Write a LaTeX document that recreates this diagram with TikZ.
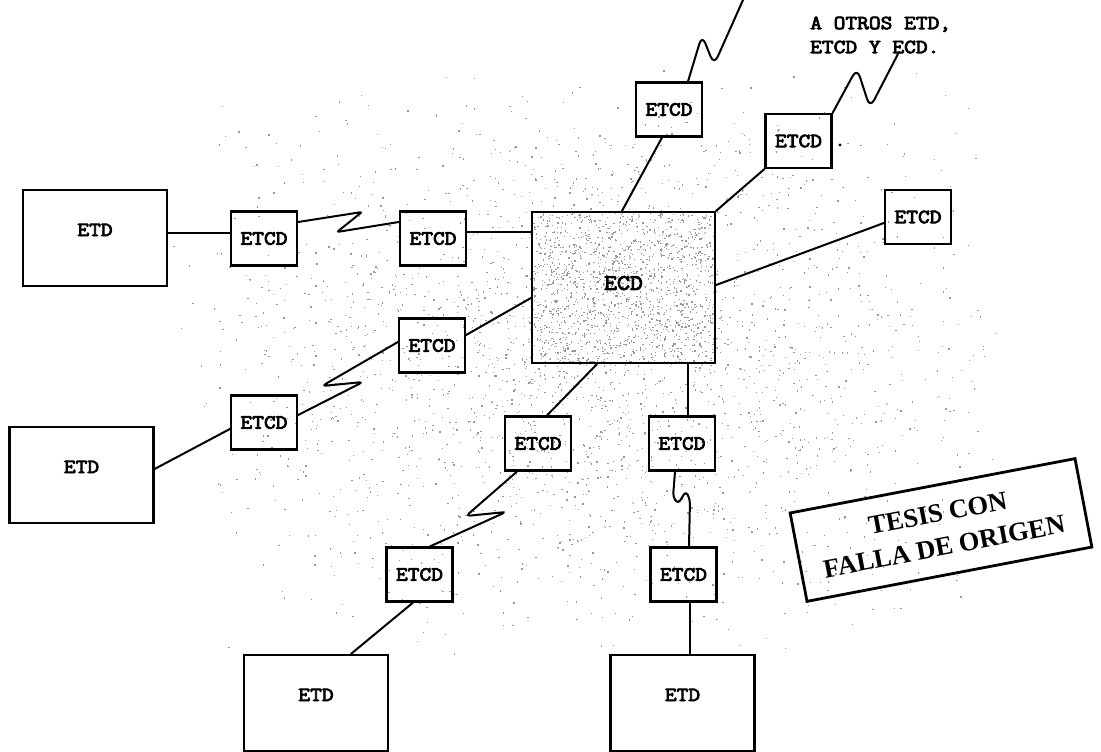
\documentclass[tikz,border=0pt]{standalone}
\usepackage{fontspec}
\newfontfamily\cour{Latin Modern Mono}[FakeBold=4, FakeStretch=1.14]
\newfontfamily\stampfont{Liberation Serif}
\usetikzlibrary{calc}
\begin{document}
\begin{tikzpicture}[x=1pt,y=-1pt,
  wire/.style={line width=2pt, line join=round, line cap=round},
  boxtext/.style={font=\cour\fontsize{20}{24}\selectfont},
  etcdbox/.style={draw, line width=2.2pt, minimum width=66pt, minimum height=54pt, inner sep=0pt, boxtext},
  etdbox/.style={draw, line width=2.2pt, minimum width=144pt, minimum height=96pt, inner sep=0pt, text height=46pt, text depth=50pt, boxtext},
  ecdbox/.style={draw, line width=2.2pt, minimum width=183pt, minimum height=151pt, inner sep=0pt, text depth=9pt, font=\cour\fontsize{22}{26}\selectfont},
  speck/.style={fill=black!40},
]
\useasboundingbox (0,0) rectangle (1101,752);

% scan speckle
\pgfmathsetseed{7}
\foreach \i in {1,...,2600}{
  \pgfmathsetmacro\px{590+420*(rand+rand)/2}
  \pgfmathsetmacro\py{360+300*(rand+rand)/2}
  \fill[speck] (\px,\py) rectangle ++(1.3,1.3);
}
\foreach \i in {1,...,1200}{
  \pgfmathsetmacro\px{533+181*rnd}
  \pgfmathsetmacro\py{213+149*rnd}
  \fill[speck] (\px,\py) rectangle ++(1.3,1.3);
}

% boxes
\node[etdbox] (e1) at (95,238) {ETD};
\node[etdbox] (e2) at (81.5,475) {ETD};
\node[etdbox] (e3) at (316,703) {ETD};
\node[etdbox] (e4) at (682.5,703) {ETD};
\node[ecdbox] (ecd) at (623.5,287.5) {ECD};
\node[etcdbox] (c1) at (264,238.5) {ETCD};
\node[etcdbox] (c2) at (433,238.5) {ETCD};
\node[etcdbox] (c3) at (264,422.5) {ETCD};
\node[etcdbox] (c4) at (432,345.5) {ETCD};
\node[etcdbox] (c5) at (538,443.5) {ETCD};
\node[etcdbox] (c6) at (419.5,574.5) {ETCD};
\node[etcdbox] (c7) at (682,443.5) {ETCD};
\node[etcdbox] (c8) at (683.5,574.5) {ETCD};
\node[etcdbox] (c9) at (669,109.5) {ETCD};
\node[etcdbox] (c10) at (798.5,141) {ETCD};
\node[etcdbox] (c11) at (918,217) {ETCD};

\coordinate (top1) at (743,0);
\coordinate (top2) at (899,52);

% connectors
\draw[wire] ($(e1.east)+(0,-5)$) -- ($(c1.west)+(0,-5.5)$);
\draw[wire, rounded corners=2pt] ($(c1.east)+(0,-16.5)$) -- (362,212) -- (337,232) -- ($(c2.west)+(0,-16.5)$);
\draw[wire] ($(c2.east)+(0,-6.5)$) -- ($(ecd.west)+(0,-55.5)$);
\draw[wire] ($(ecd.north)+(-1.5,0)$) -- ($(c9.south)+(-7,0)$);
\draw[wire, rounded corners=9pt] ($(c9.north)+(19,0)$) -- (702,35) -- (714,65) -- (top1);
\draw[wire] (ecd.north east) -- (c10.south west);
\draw[wire, rounded corners=9pt] (c10.north east) -- (857,68) -- (870,108) -- (top2);
\draw[wire] ($(ecd.east)+(0,-2.5)$) -- ($(c11.west)+(0,6)$);
\draw[wire] ($(ecd.west)+(0,10.5)$) -- ($(c4.east)+(0,-10.5)$);
\draw[wire, rounded corners=4pt] ($(c4.west)+(0,-3.5)$) -- (322,386) -- (363,382) -- ($(c3.east)+(0,-7.5)$);
\draw[wire] ($(e2.east)+(0,-6)$) -- ($(c3.west)+(0,6.5)$);
\draw[wire] ($(ecd.south)+(-26.5,0)$) -- ($(c5.north)+(9,0)$);
\draw[wire, rounded corners=4pt] ($(c5.south)+(-21,0)$) -- (466,516) -- (506,512) -- ($(c6.north)+(10.5,0)$);
\draw[wire] ($(c6.south)+(-6.5,0)$) -- ($(e3.north)+(35,0)$);
\draw[wire] ($(ecd.south)+(64.5,0)$) -- ($(c7.north)+(6,0)$);
\draw[wire, rounded corners=4pt] ($(c7.south)+(-7,0)$) -- (673,497) -- (678,504) -- (686,491) -- (690,500) -- ($(c8.north)+(5.5,0)$);
\draw[wire] ($(c8.south)+(6.5,0)$) -- ($(e4.north)+(7.5,0)$);

\fill (840,145) circle (1.7);

\node[boxtext, align=left, anchor=west, inner sep=0pt] (note) at (810,35) {A OTROS ETD,\\ETCD Y ECD.};

\node[draw, line width=2.8pt, rotate=10.8, minimum width=290pt, minimum height=90pt, align=center, inner sep=0pt,
  font=\stampfont\bfseries\fontsize{26.5}{34}\selectfont] (stamp) at (941,530) {TESIS CON\\FALLA DE ORIGEN};
\end{tikzpicture}
\end{document}
